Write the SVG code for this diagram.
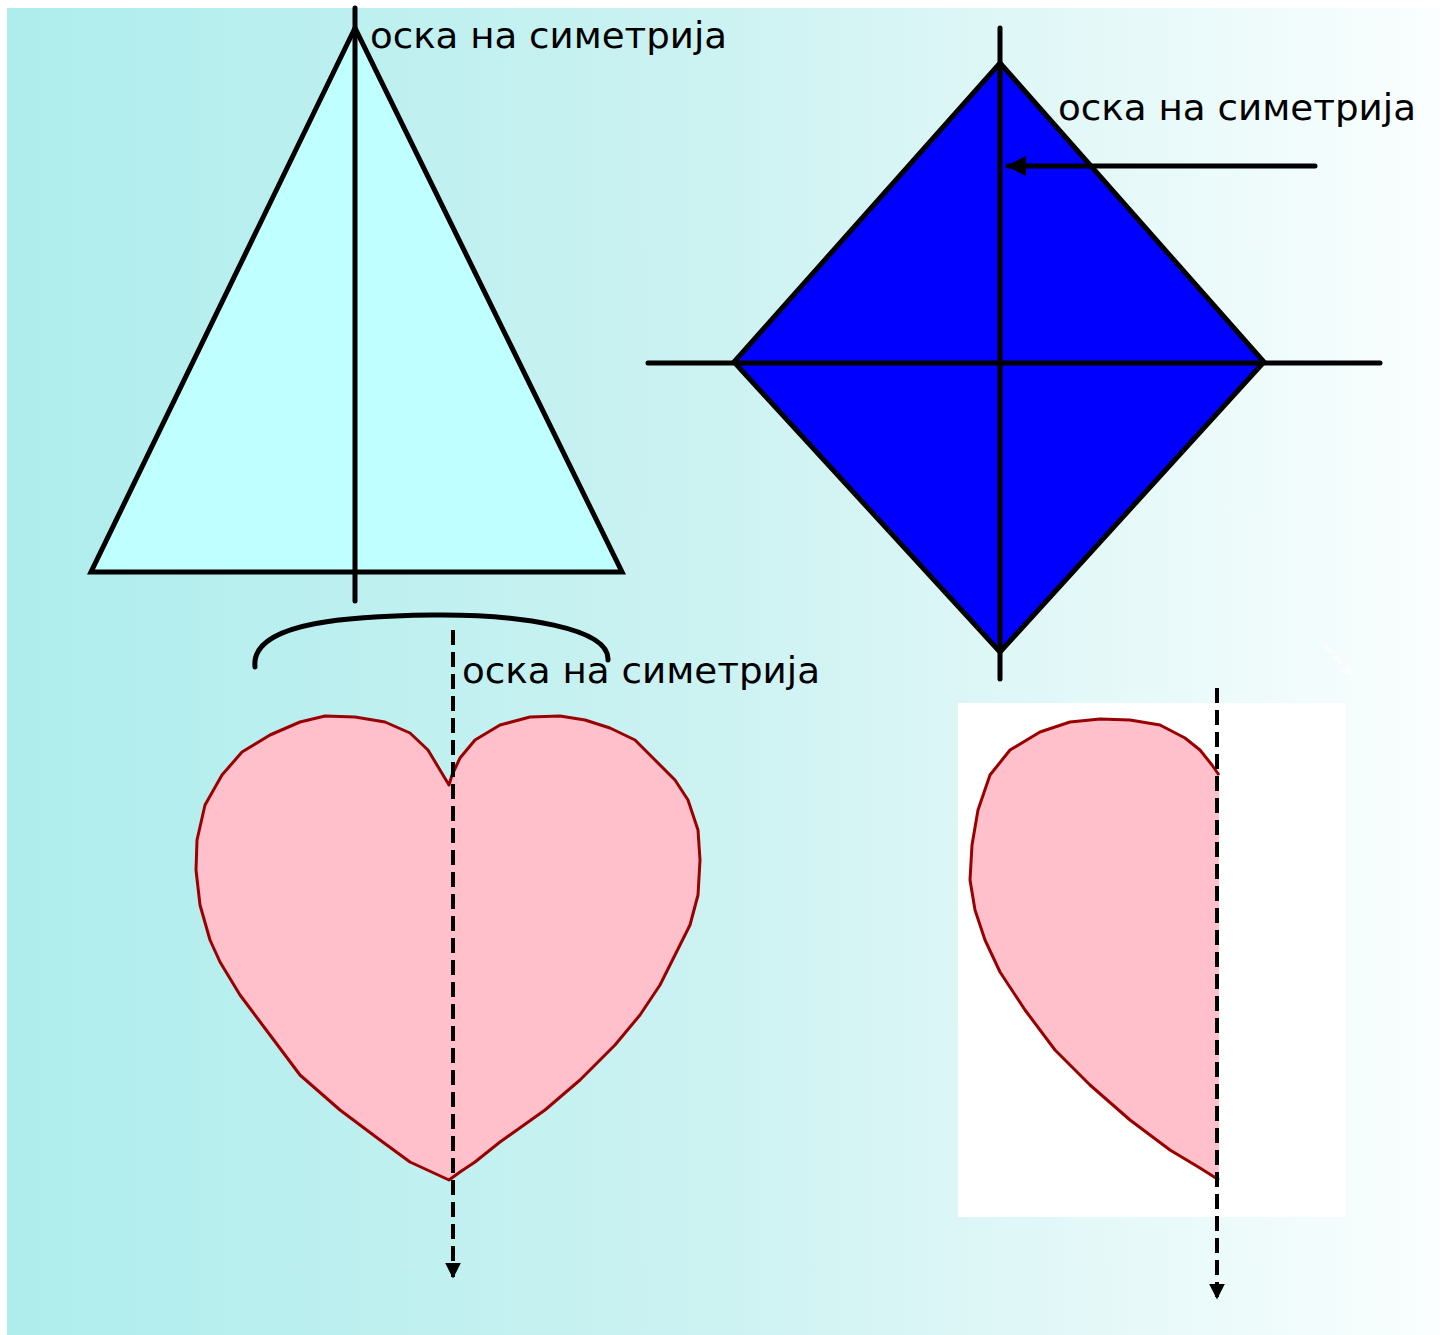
<svg xmlns="http://www.w3.org/2000/svg" width="1450" height="1335" viewBox="0 0 1450 1335">
<defs>
<linearGradient id="bg" x1="0" y1="0" x2="1" y2="0">
<stop offset="0" stop-color="#AEEDED"/>
<stop offset="0.5" stop-color="#CDF2F2"/>
<stop offset="1" stop-color="#FAFEFE"/>
</linearGradient>
<marker id="ah" viewBox="0 0 10 10" refX="9" refY="5" markerWidth="4" markerHeight="4" orient="auto" markerUnits="strokeWidth">
<path d="M0,0 L10,5 L0,10 Z" fill="#000"/>
</marker>
<marker id="ahw" viewBox="0 0 10 10" refX="9" refY="5" markerWidth="3" markerHeight="3" orient="auto" markerUnits="strokeWidth">
<path d="M0,0 L10,5 L0,10 Z" fill="#fff"/>
</marker>
</defs>
<style>
.lbl{font-family:"DejaVu Sans","Liberation Sans",sans-serif;font-size:35px;fill:#000}
.ln{stroke:#000;stroke-width:5;fill:none;stroke-linecap:round}
.dash{stroke:#000;stroke-width:4;fill:none;stroke-dasharray:15 7}
.heart{fill:#FFC0CB;stroke:#990000;stroke-width:3;stroke-linejoin:round}
</style>
<rect x="0" y="0" width="1450" height="1335" fill="#fff"/>
<rect x="7" y="8" width="1433" height="1327" fill="url(#bg)"/>

<g id="triangle">
<polygon points="355,28 91,572 622,572" fill="#C0FFFF" stroke="#000" stroke-width="5" stroke-linejoin="miter"/>
</g>
<g id="diamond">
<polygon points="1000,63 1264,362 1000,652 734,362" fill="#0000FF" stroke="#000" stroke-width="5"/>
</g>
<g id="heart">
<path class="heart" d="M449,785 L440,770 L428,750 L410,733 L385,722 L355,717 L325,716 L300,722 L270,735 L242,752 L222,775 L205,805 L197,840 L196,870 L200,905 L210,940 L220,962 L240,995 L270,1035 L300,1075 L340,1110 L380,1140 L410,1162 L449,1180 L460,1172 L475,1162 L500,1142 L545,1110 L580,1080 L615,1045 L640,1015 L660,985 L675,955 L690,925 L698,895 L700,860 L698,830 L688,800 L675,780 L655,760 L635,740 L610,728 L585,720 L560,716 L530,717 L500,725 L475,740 L460,758 L452,775 Z"/>
</g>
<g id="half-heart">
<rect x="958" y="703" width="388" height="514" fill="#fff"/>
<path d="M1219,775 L1212,765 L1200,750 L1185,738 L1160,725 L1130,720 L1100,719 L1070,722 L1040,732 L1010,750 L990,775 L978,810 L972,845 L970,880 L975,910 L985,940 L1000,972 L1025,1010 L1055,1050 L1090,1085 L1130,1120 L1170,1150 L1200,1168 L1219,1180 Z" fill="#FFC0CB"/>
<path d="M1219,775 L1212,765 L1200,750 L1185,738 L1160,725 L1130,720 L1100,719 L1070,722 L1040,732 L1010,750 L990,775 L978,810 L972,845 L970,880 L975,910 L985,940 L1000,972 L1025,1010 L1055,1050 L1090,1085 L1130,1120 L1170,1150 L1200,1168 L1219,1180" fill="none" stroke="#990000" stroke-width="3" stroke-linejoin="round"/>
</g>

<g id="connectors">
<line class="ln" x1="355" y1="8" x2="355" y2="601" stroke-linecap="butt"/>
<line class="ln" x1="1000" y1="28" x2="1000" y2="679"/>
<line class="ln" x1="648" y1="363" x2="1380" y2="363"/>
<line class="ln" x1="1315" y1="166" x2="1008" y2="166" stroke-width="4" marker-end="url(#ah)"/>
<path class="ln" d="M255,667 C250,620 360,616 432,615 C520,614 610,628 608,660"/>
<line class="dash" x1="453" y1="630" x2="453" y2="1277" marker-end="url(#ah)"/>
<line class="dash" x1="1217" y1="688" x2="1217" y2="1298" marker-end="url(#ah)"/>
<line x1="1325" y1="645" x2="1352" y2="675" stroke="#fff" stroke-width="4" stroke-dasharray="10 5" marker-end="url(#ahw)" opacity="0.8"/>
</g>

<g id="labels">
<text class="lbl" x="370" y="48" textLength="357" lengthAdjust="spacingAndGlyphs">оска на симетрија</text>
<text class="lbl" x="1058" y="120" textLength="358" lengthAdjust="spacingAndGlyphs">оска на симетрија</text>
<text class="lbl" x="462" y="683" textLength="358" lengthAdjust="spacingAndGlyphs">оска на симетрија</text>
</g>
</svg>
